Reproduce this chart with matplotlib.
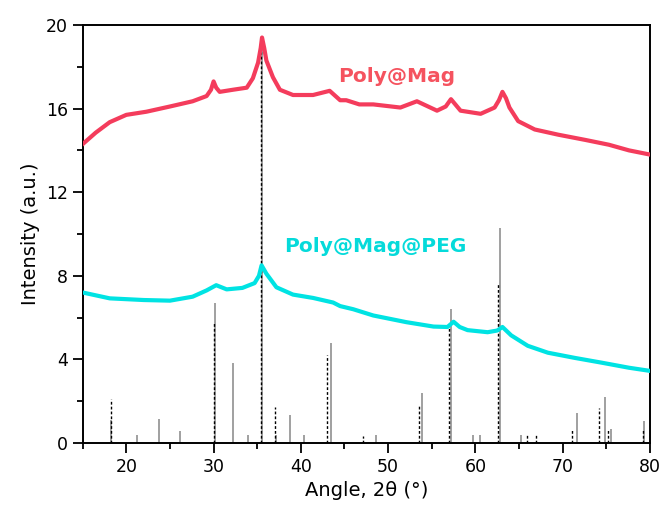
import numpy as np
import matplotlib
matplotlib.use('Agg')
import matplotlib.pyplot as plt
from matplotlib.ticker import MultipleLocator

# Poly@Mag
ang_mag = [15.0, 16.5, 18.1, 20.0, 22.3, 25.0, 27.6, 29.2, 29.7, 30.0, 30.3, 30.7, 32.2,
           33.8, 34.5, 35.1, 35.4, 35.55, 35.8, 36.05, 36.8, 37.6, 39.1, 41.4, 43.3,
           44.5, 45.2, 46.7, 48.3, 51.4, 53.3, 55.6, 56.6, 57.2, 58.3, 60.6, 62.2,
           62.7, 63.1, 63.5, 63.9, 64.9, 66.8, 69.5, 72.6, 75.3, 77.6, 80.0]
int_mag = [14.3, 14.85, 15.35, 15.7, 15.85, 16.1, 16.35, 16.6, 16.9, 17.3, 17.0, 16.8, 16.9,
           17.0, 17.45, 18.2, 18.9, 19.4, 18.9, 18.3, 17.5, 16.9, 16.65, 16.65, 16.85,
           16.4, 16.4, 16.2, 16.2, 16.05, 16.35, 15.9, 16.1, 16.45, 15.9, 15.75, 16.05,
           16.4, 16.8, 16.5, 16.05, 15.4, 15.0, 14.75, 14.5, 14.27, 14.0, 13.8]

# Poly@Mag@PEG
ang_peg = [15.0, 18.1, 22.0, 25.0, 27.6, 29.2, 30.3, 31.5, 33.3, 34.7, 35.2, 35.5, 36.05,
           37.2, 39.1, 41.4, 43.7, 44.5, 46.0, 48.3, 52.1, 55.2, 56.8, 57.5, 58.2,
           59.1, 61.4, 62.5, 63.1, 64.1, 66.0, 68.3, 71.4, 74.5, 77.6, 80.0]
int_peg = [7.2, 6.92, 6.84, 6.81, 7.0, 7.3, 7.55, 7.35, 7.42, 7.65, 8.0, 8.5, 8.1,
           7.45, 7.1, 6.94, 6.72, 6.55, 6.4, 6.1, 5.78, 5.57, 5.55, 5.8, 5.55,
           5.4, 5.3, 5.38, 5.55, 5.15, 4.65, 4.32, 4.07, 3.84, 3.6, 3.45]

# reference pattern 1 (grey solid sticks)
ref1_pos = [15.0, 18.3, 21.2, 23.8, 26.1, 30.2, 32.2, 33.9, 35.6, 37.2, 38.75, 40.4, 43.45,
            48.6, 53.9, 57.2, 59.7, 60.5, 62.8, 65.2, 71.6, 74.9, 75.5, 79.3]
ref1_int = [0.6, 1.1, 0.38, 1.13, 0.57, 6.68, 3.81, 0.38, 19.3, 0.38, 1.34, 0.38, 4.77,
            0.38, 2.37, 6.43, 0.38, 0.38, 10.27, 0.38, 1.44, 2.21, 0.68, 1.05]

# reference pattern 2 (black dashed sticks)
ref2_pos = [18.2, 30.0, 35.4, 37.0, 43.0, 47.1, 53.5, 57.0, 62.6, 65.9, 66.9, 71.1, 74.2, 75.2, 79.2]
ref2_int = [2.09, 5.73, 19.4, 1.74, 4.21, 0.35, 1.84, 5.67, 7.6, 0.38, 0.38, 0.68, 1.65, 0.68, 0.68]

plt.rcParams['font.family'] = ['DejaVu Sans']

fig = plt.figure(figsize=(6.63, 5.12), dpi=100)
ax = fig.add_axes([0.1247, 0.1348, 0.8556, 0.8164])

ax.vlines(ref1_pos, 0, ref1_int, colors='#909090', linewidth=1.2, zorder=2)
ax.vlines(ref2_pos, 0, ref2_int, colors='black', linewidth=1.0,
          linestyles=(0, (2.0, 1.5)), zorder=3)

ax.plot(ang_mag, int_mag, color='#f43c5c', linewidth=3.0, zorder=4)
ax.plot(ang_peg, int_peg, color='#00e3e3', linewidth=3.0, zorder=4)

ax.set_xlim(15, 80)
ax.set_ylim(0, 20)
ax.xaxis.set_major_locator(MultipleLocator(10))
ax.xaxis.set_minor_locator(MultipleLocator(5))
ax.yaxis.set_major_locator(MultipleLocator(4))
ax.yaxis.set_minor_locator(MultipleLocator(2))
ax.tick_params(which='major', direction='out', length=7, width=1.3, labelsize=12.5)
ax.tick_params(which='minor', direction='out', length=4, width=1.3)
for s in ax.spines.values():
    s.set_linewidth(1.4)

ax.set_xlabel('Angle, 2θ (°)', fontsize=14)
ax.set_ylabel('Intensity (a.u.)', fontsize=14)

# label positions given in pixels, converted to data coords
inv = ax.transData.inverted()
x1, y1 = inv.transform((397, 512 - 77))
x2, y2 = inv.transform((375, 512 - 247))
ax.text(x1, y1, 'Poly@Mag', color='#f5535f', fontsize=14.5, fontweight='bold',
        ha='center', va='center')
ax.text(x2, y2, 'Poly@Mag@PEG', color='#05dada', fontsize=14.5, fontweight='bold',
        ha='center', va='center')

plt.savefig('out.png', dpi=100)
